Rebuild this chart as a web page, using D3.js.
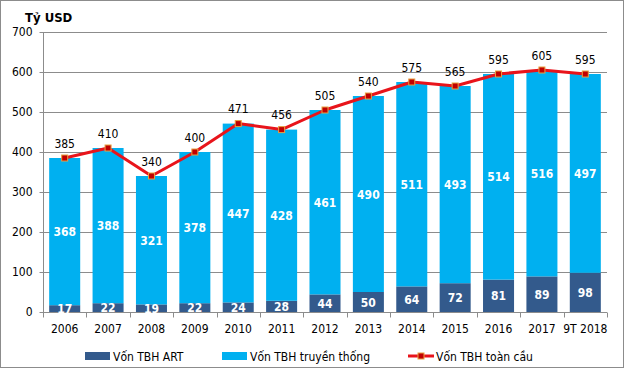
<!DOCTYPE html>
<html><head><meta charset="utf-8">
<script src="https://cdn.jsdelivr.net/npm/d3@7"></script>
<style>body{margin:0;background:#fff}svg{display:block}text{font-family:"DejaVu Sans Condensed","DejaVu Sans",Verdana,sans-serif}</style>
</head><body><svg id="c" width="624" height="368"></svg>
<script>
const categories = ["2006","2007","2008","2009","2010","2011","2012","2013","2014","2015","2016","2017","9T 2018"];
const artValues = [17,22,19,22,24,28,44,50,64,72,81,89,98];
const tradValues = [368,388,321,378,447,428,461,490,511,493,514,516,497];
const totalValues = [385,410,340,400,471,456,505,540,575,565,595,605,595];
const yTicks = [0,100,200,300,400,500,600,700];
const seriesNames = ["Vốn TBH ART","Vốn TBH truyền thống","Vốn TBH toàn cầu"];

const svg = d3.select("#c");
const W=624,H=368;
const m={l:43,r:17,t:32,b:56};
const colART="#335A8C", colTrad="#00B0F0", colLine="#E8141B";
const FS=12;

svg.append("rect").attr("x",0.5).attr("y",0.5).attr("width",W-1).attr("height",H-1).attr("fill","#fff").attr("stroke","#8c8c8c");

const x=d3.scaleBand().domain(categories).range([m.l,W-m.r]).paddingInner(0.285).paddingOuter(0.1425);
const y=d3.scaleLinear().domain([0,700]).range([H-m.b,m.t]);

// gridlines
svg.append("g").selectAll("line").data(yTicks.slice(1)).join("line")
 .attr("x1",m.l).attr("x2",W-m.r).attr("y1",d=>y(d)+0.5).attr("y2",d=>y(d)+0.5)
 .attr("stroke","#8c8c8c").attr("stroke-width",1);

// y axis
const ya=svg.append("g").attr("transform",`translate(${m.l+0.5},0)`)
 .call(d3.axisLeft(y).tickValues(yTicks).tickSize(4).tickPadding(7));
ya.selectAll("path,line").attr("stroke","#8c8c8c");
ya.select(".domain").attr("d",`M0,${y(0)}V${y(700)}`);
ya.selectAll("text").attr("font-size",FS).attr("fill","#000").style("font-family",null);
ya.attr("font-family",null);
ya.selectAll(".tick").attr("transform",d=>`translate(0,${y(d)+0.5})`);

// x axis
const xa=svg.append("g").attr("transform",`translate(0,${y(0)+0.5})`);
xa.append("line").attr("x1",m.l).attr("x2",W-m.r).attr("stroke","#8c8c8c");
const bounds=categories.map((c,i)=>x(c)-x.step()*x.paddingInner()/2).concat([W-m.r]);
xa.selectAll(".tk").data(bounds).join("line").attr("class","tk")
 .attr("x1",d=>Math.round(d)+0.5).attr("x2",d=>Math.round(d)+0.5).attr("y1",0).attr("y2",5).attr("stroke","#8c8c8c");
xa.selectAll(".lb").data(categories).join("text").attr("class","lb")
 .attr("x",d=>x(d)+x.bandwidth()/2).attr("y",20).attr("text-anchor","middle").attr("font-size",FS).text(d=>d);

// bars
const g=svg.append("g");
g.selectAll(".art").data(categories).join("rect").attr("class","art")
 .attr("x",d=>x(d)).attr("width",x.bandwidth())
 .attr("y",(d,i)=>y(artValues[i])).attr("height",(d,i)=>y(0)-y(artValues[i])).attr("fill",colART);
g.selectAll(".trad").data(categories).join("rect").attr("class","trad")
 .attr("x",d=>x(d)).attr("width",x.bandwidth())
 .attr("y",(d,i)=>y(artValues[i]+tradValues[i])).attr("height",(d,i)=>y(artValues[i])-y(artValues[i]+tradValues[i])).attr("fill",colTrad);

// bar labels
g.selectAll(".tl").data(categories).join("text").attr("class","tl")
 .attr("x",d=>x(d)+x.bandwidth()/2).attr("y",(d,i)=>y(artValues[i]+tradValues[i]/2)+4.5)
 .attr("text-anchor","middle").attr("font-size",FS).attr("font-weight","bold").attr("fill","#fff").text((d,i)=>tradValues[i]);
g.selectAll(".al").data(categories).join("text").attr("class","al")
 .attr("x",d=>x(d)+x.bandwidth()/2).attr("y",(d,i)=>y(artValues[i]/2)+4.5)
 .attr("text-anchor","middle").attr("font-size",FS).attr("font-weight","bold").attr("fill","#fff").text((d,i)=>artValues[i]);

// line
const cx=d=>x(d)+x.bandwidth()/2;
svg.append("path").datum(categories).attr("fill","none").attr("stroke",colLine).attr("stroke-width",3).attr("stroke-linejoin","round")
 .attr("d",d3.line().x(d=>cx(d)).y((d,i)=>y(totalValues[i])));
svg.selectAll(".mk").data(categories).join("rect").attr("class","mk")
 .attr("x",d=>cx(d)-3).attr("y",(d,i)=>y(totalValues[i])-3).attr("width",6).attr("height",6)
 .attr("fill","#C00000").attr("stroke","#E8A040").attr("stroke-width",1);
svg.selectAll(".ttl").data(categories).join("text").attr("class","ttl")
 .attr("x",d=>cx(d)).attr("y",(d,i)=>y(totalValues[i])-10.5)
 .attr("text-anchor","middle").attr("font-size",FS).attr("fill","#000").text((d,i)=>totalValues[i]);

// unit label
svg.append("text").attr("x",25).attr("y",22).attr("font-size",13).attr("font-weight","bold").text("Tỷ USD");

// legend
const ly=356;
const lg=svg.append("g");
lg.append("rect").attr("x",85).attr("y",ly-4).attr("width",25).attr("height",8).attr("fill",colART);
lg.append("text").attr("x",113).attr("y",ly+4.5).attr("font-size",FS).text(seriesNames[0]);
lg.append("rect").attr("x",222).attr("y",ly-4).attr("width",25).attr("height",8).attr("fill",colTrad);
lg.append("text").attr("x",250).attr("y",ly+4.5).attr("font-size",FS).text(seriesNames[1]);
lg.append("line").attr("x1",408).attr("x2",434).attr("y1",ly).attr("y2",ly).attr("stroke",colLine).attr("stroke-width",3);
lg.append("rect").attr("x",418).attr("y",ly-3).attr("width",6).attr("height",6).attr("fill","#C00000").attr("stroke","#E8A040");
lg.append("text").attr("x",436).attr("y",ly+4.5).attr("font-size",FS).text(seriesNames[2]);
</script></body></html>
